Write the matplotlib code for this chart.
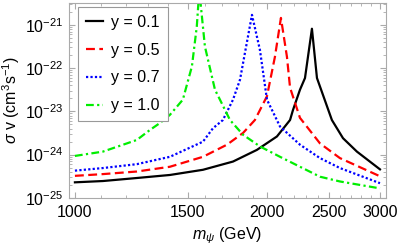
import numpy as np
import matplotlib.pyplot as plt
from matplotlib.ticker import FixedLocator, NullFormatter, FixedFormatter

plt.rcParams['font.family'] = 'Liberation Sans'
plt.rcParams['mathtext.fontset'] = 'custom'
plt.rcParams['mathtext.rm'] = 'Liberation Sans'
plt.rcParams['mathtext.it'] = 'Liberation Sans:italic'

# m_psi (GeV), log10(sigma v / cm^3 s^-1)
m_01 = [1000, 1106, 1250, 1408, 1586, 1767, 1926, 2070, 2170, 2193, 2249, 2290, 2348,
        2391, 2523, 2626, 2761, 3000]
lsv_01 = [-24.64, -24.61, -24.54, -24.47, -24.35, -24.16, -23.89, -23.58, -23.20, -22.97,
          -22.50, -22.23, -21.09, -22.23, -23.20, -23.62, -23.93, -24.34]

m_05 = [1000, 1106, 1250, 1408, 1586, 1729, 1832, 1912, 1997, 2055, 2100, 2146, 2170,
        2209, 2249, 2417, 2597, 3000]
lsv_05 = [-24.49, -24.45, -24.39, -24.28, -24.05, -23.77, -23.50, -23.20, -22.65, -21.74,
          -20.84, -21.74, -22.45, -22.80, -23.15, -23.74, -24.08, -24.50]

m_07 = [1000, 1106, 1250, 1408, 1586, 1644, 1704, 1767, 1812, 1892, 1947, 1997, 2093,
        2249, 2417, 2597, 3000]
lsv_07 = [-24.37, -24.31, -24.22, -24.05, -23.70, -23.39, -23.20, -22.73, -22.27, -20.77,
          -21.58, -22.73, -23.35, -23.77, -24.08, -24.31, -24.66]

m_10 = [1000, 1106, 1206, 1250, 1310, 1358, 1408, 1475, 1524, 1551, 1565, 1597, 1656,
        1686, 1748, 1832, 1947, 2093, 2249, 2417, 2597, 3000]
lsv_10 = [-24.03, -23.93, -23.74, -23.66, -23.43, -23.27, -23.08, -22.73, -21.96, -21.04,
          -20.2, -21.50, -22.50, -22.73, -23.20, -23.54, -23.81, -24.05, -24.28, -24.51,
          -24.62, -24.78]

x_ticks = [1000, 1500, 2000, 2500, 3000]
y_exps = [-25, -24, -23, -22, -21]

fig = plt.figure(figsize=(3.99, 2.48), dpi=100)
ax = fig.add_axes([0.173, 0.202, 0.794, 0.786])

ax.plot(m_01, 10.0**np.array(lsv_01), color='black', lw=1.6, label='y = 0.1')
ax.plot(m_05, 10.0**np.array(lsv_05), color='red', lw=1.6, dashes=(4, 2), label='y = 0.5')
ax.plot(m_07, 10.0**np.array(lsv_07), color='blue', lw=1.6, dashes=(1, 1), label='y = 0.7')
ax.plot(m_10, 10.0**np.array(lsv_10), color='#00ee00', lw=1.6, dashes=(3.5, 1.5, 1, 1.5),
        label='y = 1.0')

ax.set_xscale('log')
ax.set_yscale('log')
ax.set_xlim(979, 3064)
ax.set_ylim(1e-25, 3.2e-21)

ax.xaxis.set_major_locator(FixedLocator(x_ticks))
ax.xaxis.set_major_formatter(FixedFormatter([str(t) for t in x_ticks]))
ax.xaxis.set_minor_locator(FixedLocator(np.arange(1000, 3100, 100)))
ax.xaxis.set_minor_formatter(NullFormatter())

ax.yaxis.set_major_locator(FixedLocator([10.0**e for e in y_exps]))
ax.yaxis.set_major_formatter(FixedFormatter([r'$10^{%d}$' % e for e in y_exps]))
minor_y = [k * 10.0**e for e in y_exps for k in range(2, 10) if k * 10.0**e < 3.2e-21]
ax.yaxis.set_minor_locator(FixedLocator(minor_y))
ax.yaxis.set_minor_formatter(NullFormatter())

for s in ax.spines.values():
    s.set_color('#aaaaaa')
ax.tick_params(which='both', direction='in', top=True, right=True, color='#aaaaaa',
               labelsize=11.5, labelcolor='black')
ax.tick_params(which='major', length=4, width=0.8)
ax.tick_params(which='minor', length=2, width=0.6)
ax.tick_params(axis='x', pad=5)
ax.tick_params(axis='y', pad=4)

ax.set_xlabel(r'$m_\psi$ (GeV)', fontsize=11.5, labelpad=4)
ax.set_ylabel(r'$\sigma$ v (cm$^3$s$^{-1}$)', fontsize=11.5, labelpad=2)

leg = ax.legend(loc='upper left', bbox_to_anchor=(0.028, 0.98), borderaxespad=0,
                fontsize=11.5, fancybox=False, framealpha=1, edgecolor='#999999',
                handlelength=1.1, handletextpad=0.5, labelspacing=0.8, borderpad=0.5)
leg.get_frame().set_linewidth(0.8)

plt.savefig('out.png', dpi=100)
